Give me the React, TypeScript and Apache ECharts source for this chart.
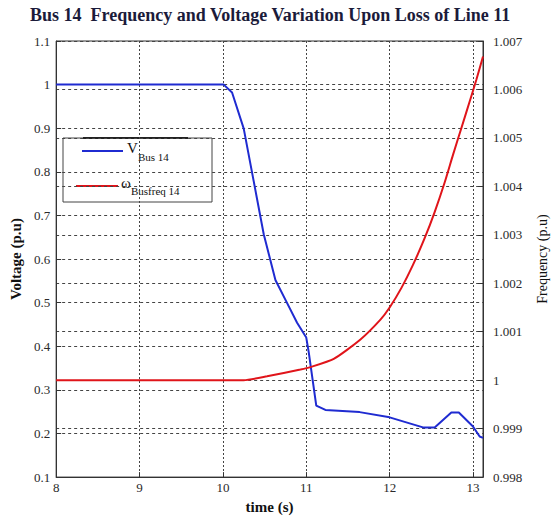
import React, { useEffect, useRef } from 'react';
import * as echarts from 'echarts';

// time (s) and bus 14 voltage (p.u)
const timeV = [8, 10.01, 10.11, 10.25, 10.37, 10.49, 10.63, 10.76, 10.89, 11.0, 11.03, 11.12, 11.23, 11.64, 12.0, 12.4, 12.54, 12.74, 12.83, 13.0, 13.08, 13.12];
const voltage = [1.0, 1.0, 0.982, 0.899, 0.778, 0.657, 0.552, 0.503, 0.454, 0.42, 0.386, 0.264, 0.254, 0.249, 0.237, 0.214, 0.214, 0.248, 0.248, 0.216, 0.193, 0.19];

// time (s) and bus 14 frequency (p.u)
const timeF = [8, 10.25, 10.53, 10.93, 11.05, 11.33, 11.65, 11.89, 12.0, 12.14, 12.28, 12.42, 12.54, 12.66, 12.76, 12.86, 12.96, 13.04, 13.12];
const frequency = [1.0, 1.0, 1.00008, 1.00022, 1.00027, 1.00044, 1.00084, 1.00125, 1.0015, 1.0019, 1.00238, 1.00293, 1.00347, 1.00408, 1.00465, 1.0052, 1.00575, 1.0062, 1.00668];

const titleText = 'Bus 14  Frequency and Voltage Variation Upon Loss of Line 11';
const xName = 'time (s)';
const yLeftName = 'Voltage (p.u)';
const yRightName = 'Frequency (p.u)';

const FONT = '"Liberation Serif", "Times New Roman", serif';
const BLUE = '#1f2bd1';
const RED = '#e0141a';
const AX = '#333';
const LBL = '#2a2a2a';

export default function App() {
  const ref = useRef<HTMLDivElement>(null);
  useEffect(() => {
    if (!ref.current) return;
    const chart = echarts.init(ref.current, undefined, { renderer: 'svg' });
    const labelStyle = { fontFamily: FONT, fontSize: 13, color: LBL };
    const option: any = {
      animation: false,
      backgroundColor: '#fff',
      title: {
        text: titleText,
        left: 25,
        top: 1,
        textStyle: { fontFamily: FONT, fontSize: 18, fontWeight: 'bold', color: '#1b1b3a' },
      },
      grid: { left: 56, right: 75, top: 41, bottom: 36, show: true, borderColor: AX, borderWidth: 1, backgroundColor: 'transparent' },
      xAxis: {
        type: 'value', min: 8, max: 13.12, interval: 1,
        name: xName, nameLocation: 'middle', nameGap: 18,
        nameTextStyle: { fontFamily: FONT, fontSize: 15, fontWeight: 'bold', color: '#111' },
        axisLine: { lineStyle: { color: AX } },
        axisTick: { inside: true, length: 5, lineStyle: { color: AX } },
        axisLabel: { ...labelStyle, margin: 4, formatter: (v: number) => (Math.abs(v - Math.round(v)) < 1e-6 ? String(Math.round(v)) : '') },
        splitLine: { show: true, lineStyle: { type: [2, 2], color: '#444', width: 1 } },
      },
      yAxis: [
        {
          type: 'value', position: 'left', min: 0.1, max: 1.1, interval: 0.1,
          name: yLeftName, nameLocation: 'middle', nameGap: 30, nameRotate: 90,
          nameTextStyle: { fontFamily: FONT, fontSize: 15, fontWeight: 'bold', color: '#111' },
          axisLine: { show: true, lineStyle: { color: AX } },
          axisTick: { show: true, inside: true, length: 5, lineStyle: { color: AX } },
          axisLabel: { ...labelStyle, margin: 6 },
          splitLine: { show: true, lineStyle: { type: [3, 3], color: '#444', width: 1 } },
        },
        {
          type: 'value', position: 'right', min: 0.998, max: 1.007, interval: 0.001,
          name: yRightName, nameLocation: 'middle', nameGap: 52, nameRotate: 90,
          nameTextStyle: { fontFamily: FONT, fontSize: 14, color: '#111' },
          axisLine: { show: true, lineStyle: { color: AX } },
          axisTick: { show: true, inside: true, length: 5, lineStyle: { color: AX } },
          axisLabel: { ...labelStyle, margin: 10 },
          splitLine: { show: true, lineStyle: { type: [3, 3], color: '#444', width: 1 } },
        },
      ],
      series: [
        {
          name: 'V Bus 14', type: 'line', yAxisIndex: 0, showSymbol: false, symbol: 'none',
          data: timeV.map((t, i) => [t, voltage[i]]),
          lineStyle: { color: BLUE, width: 2 }, itemStyle: { color: BLUE }, z: 3,
        },
        {
          name: 'ω Busfreq 14', type: 'line', yAxisIndex: 1, showSymbol: false, symbol: 'none', smooth: 0.2,
          data: timeF.map((t, i) => [t, frequency[i]]),
          lineStyle: { color: RED, width: 2 }, itemStyle: { color: RED }, z: 3,
        },
      ],
      graphic: [
        {
          type: 'group', z: 100, children: [
            { type: 'rect', shape: { x: 63, y: 138, width: 149, height: 64 }, style: { fill: '#fff', stroke: '#444', lineWidth: 1 } },
            { type: 'line', shape: { x1: 83, y1: 138, x2: 188, y2: 138 }, style: { stroke: '#222', lineWidth: 2 } },
            { type: 'line', shape: { x1: 82, y1: 151, x2: 123, y2: 151 }, style: { stroke: BLUE, lineWidth: 2 } },
            { type: 'text', x: 127, y: 148, style: { text: 'V', fontFamily: FONT, fontSize: 15, fill: '#111', verticalAlign: 'middle' } },
            { type: 'text', x: 138, y: 157, style: { text: 'Bus 14', fontFamily: FONT, fontSize: 11, fill: '#111', verticalAlign: 'middle' } },
            { type: 'line', shape: { x1: 76, y1: 186, x2: 118, y2: 186 }, style: { stroke: RED, lineWidth: 2 } },
            { type: 'text', x: 121, y: 183, style: { text: 'ω', fontFamily: FONT, fontSize: 15, fill: '#111', verticalAlign: 'middle' } },
            { type: 'text', x: 131, y: 191, style: { text: 'Busfreq 14', fontFamily: FONT, fontSize: 11, fill: '#111', verticalAlign: 'middle' } },
          ],
        },
      ],
    };
    chart.setOption(option);
    return () => chart.dispose();
  }, []);
  return <div ref={ref} style={{ position: 'fixed', left: 0, top: 0, width: 558, height: 519 }} />;
}
